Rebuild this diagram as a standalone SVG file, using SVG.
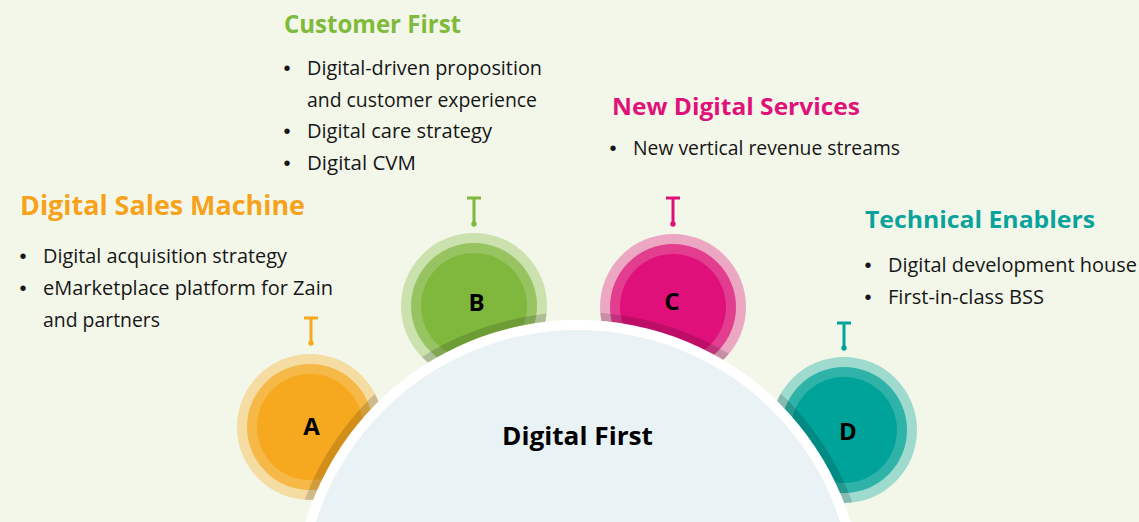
<svg xmlns="http://www.w3.org/2000/svg" width="1139" height="522" viewBox="0 0 1139 522">
  <defs>
    <style>
      .bg { fill: #F3F7EA; }
      .head { font-family: "Open Sans", "Lato", "Liberation Sans", sans-serif; font-weight: 700; }
      .body { font-family: "Open Sans", "Lato", "Liberation Sans", sans-serif; font-size: 20px; fill: #161616; }
      .bullet { font-family: "Liberation Sans", sans-serif; font-size: 20px; fill: #161616; text-anchor: middle; }
      .letter { font-family: "Open Sans", "Liberation Sans", sans-serif; font-weight: 700; font-size: 24px; fill: #000; text-anchor: middle; }
      .ring-out { opacity: 0.35; }
      .ring-mid { opacity: 0.7; }
      .orange { fill: #F6A81F; }
      .green { fill: #80B83E; }
      .pink { fill: #E0107A; }
      .teal { fill: #00A39A; }
      .pin { fill: none; stroke-width: 3; stroke-linecap: butt; }
      .pin-dot { stroke: none; }
    </style>
    <!-- union of the four outer node discs, used to limit the hub's shadow -->
    <clipPath id="nodeDiscs">
      <circle cx="310" cy="427" r="73"/>
      <circle cx="474" cy="306" r="73"/>
      <circle cx="673" cy="307" r="73"/>
      <circle cx="844" cy="430" r="73"/>
    </clipPath>
  </defs>

  <rect class="bg" x="0" y="0" width="1139" height="522"/>

  <!-- Node A: Digital Sales Machine -->
  <g id="node-a">
    <circle class="orange ring-out" cx="310" cy="427" r="73"/>
    <circle class="orange ring-mid" cx="310" cy="427" r="63"/>
    <circle class="orange" cx="310" cy="427" r="53"/>
    <text class="letter" x="311.5" y="435">A</text>
    <text class="head" x="20" y="215" font-size="26" fill="#F6A31B" textLength="285" lengthAdjust="spacingAndGlyphs">Digital Sales Machine</text>
    <text class="bullet" x="23" y="263">•</text>
    <text class="body" x="43" y="263" textLength="244" lengthAdjust="spacingAndGlyphs">Digital acquisition strategy</text>
    <text class="bullet" x="23" y="295">•</text>
    <text class="body" x="43" y="295" textLength="290" lengthAdjust="spacingAndGlyphs">eMarketplace platform for Zain</text>
    <text class="body" x="43" y="327" textLength="117" lengthAdjust="spacingAndGlyphs">and partners</text>
  </g>

  <!-- Node B: Customer First -->
  <g id="node-b">
    <circle class="green ring-out" cx="474" cy="306" r="73"/>
    <circle class="green ring-mid" cx="474" cy="306" r="63"/>
    <circle class="green" cx="474" cy="306" r="53"/>
    <text class="letter" x="476.5" y="311">B</text>
    <text class="head" x="284" y="33" font-size="25" fill="#7FBA3A" textLength="177" lengthAdjust="spacingAndGlyphs">Customer First</text>
    <text class="bullet" x="287" y="75">•</text>
    <text class="body" x="307" y="75" textLength="235" lengthAdjust="spacingAndGlyphs">Digital-driven proposition</text>
    <text class="body" x="307" y="107" textLength="230" lengthAdjust="spacingAndGlyphs">and customer experience</text>
    <text class="bullet" x="287" y="138">•</text>
    <text class="body" x="307" y="138" textLength="185" lengthAdjust="spacingAndGlyphs">Digital care strategy</text>
    <text class="bullet" x="287" y="170">•</text>
    <text class="body" x="307" y="170" textLength="109" lengthAdjust="spacingAndGlyphs">Digital CVM</text>
  </g>

  <!-- Node C: New Digital Services -->
  <g id="node-c">
    <circle class="pink ring-out" cx="673" cy="307" r="73"/>
    <circle class="pink ring-mid" cx="673" cy="307" r="63"/>
    <circle class="pink" cx="673" cy="307" r="53"/>
    <text class="letter" x="672" y="310">C</text>
    <text class="head" x="612" y="115" font-size="24" fill="#E0127A" textLength="248" lengthAdjust="spacingAndGlyphs">New Digital Services</text>
    <text class="bullet" x="613" y="155">•</text>
    <text class="body" x="633" y="155" textLength="267" lengthAdjust="spacingAndGlyphs">New vertical revenue streams</text>
  </g>

  <!-- Node D: Technical Enablers -->
  <g id="node-d">
    <circle class="teal ring-out" cx="844" cy="430" r="73"/>
    <circle class="teal ring-mid" cx="844" cy="430" r="63"/>
    <circle class="teal" cx="844" cy="430" r="53"/>
    <text class="letter" x="848" y="440">D</text>
    <text class="head" x="865" y="228" font-size="24" fill="#0AA39B" textLength="230" lengthAdjust="spacingAndGlyphs">Technical Enablers</text>
    <text class="bullet" x="868" y="272">•</text>
    <text class="body" x="888" y="272" textLength="249" lengthAdjust="spacingAndGlyphs">Digital development house</text>
    <text class="bullet" x="868" y="304">•</text>
    <text class="body" x="888" y="304" textLength="156" lengthAdjust="spacingAndGlyphs">First-in-class BSS</text>
  </g>

  <!-- Hub: Digital First -->
  <g id="node-hub">
    <circle cx="578" cy="605" r="289" fill="none" stroke="#000" stroke-opacity="0.15" stroke-width="8" clip-path="url(#nodeDiscs)"/>
    <circle cx="578" cy="605" r="285" fill="#FFFFFF"/>
    <circle cx="578" cy="605" r="275" fill="#E9F2F5"/>
    <text class="head" x="502" y="445" font-size="25" fill="#000" textLength="151" lengthAdjust="spacingAndGlyphs">Digital First</text>
  </g>

  <!-- T-shaped pins above each node -->
  <g id="connectors">
    <g stroke="#F6A81F" fill="#F6A81F">
      <path class="pin" d="M304 318 H318 M311 318 V343"/>
      <circle class="pin-dot" cx="311" cy="343" r="2.7"/>
    </g>
    <g stroke="#80B83E" fill="#80B83E">
      <path class="pin" d="M467 198 H481 M474 198 V224"/>
      <circle class="pin-dot" cx="474" cy="224" r="2.7"/>
    </g>
    <g stroke="#E0107A" fill="#E0107A">
      <path class="pin" d="M666 198 H680 M673 198 V224"/>
      <circle class="pin-dot" cx="673" cy="224" r="2.7"/>
    </g>
    <g stroke="#00A39A" fill="#00A39A">
      <path class="pin" d="M837 323 H851 M844 323 V348"/>
      <circle class="pin-dot" cx="844" cy="348" r="2.7"/>
    </g>
  </g>
</svg>
